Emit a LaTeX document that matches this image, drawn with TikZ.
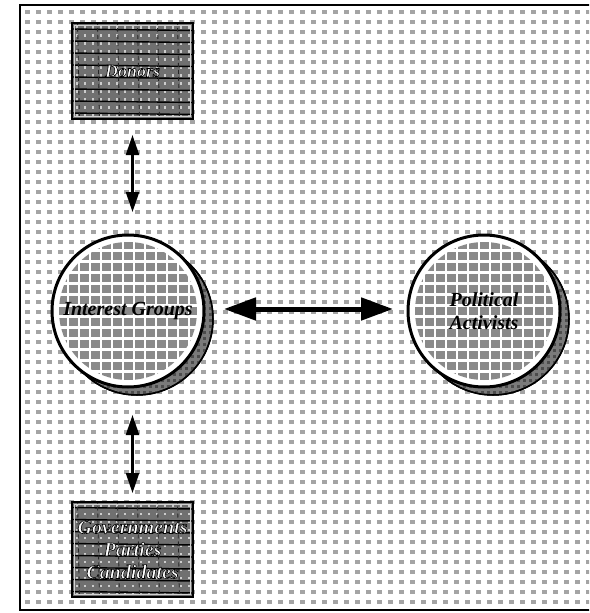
\documentclass[tikz,border=0pt]{standalone}
\usepackage{fontspec}
\setmainfont{Liberation Serif}
\usetikzlibrary{arrows.meta}

\definecolor{bgdot}{HTML}{A4A4A4}
\definecolor{cellgray}{HTML}{8A8A8A}
\definecolor{boxgray}{HTML}{707070}
\definecolor{shadegray}{HTML}{7A7A7A}

% white letters stroked with a thin black outline (fill-and-stroke text mode)
\newcommand{\outlined}[1]{\special{pdf:literal direct 2 Tr 0.6 w 0 G}#1\special{pdf:literal direct 0 Tr}}

\tikzset{
  every node/.style={inner sep=0pt, outer sep=0pt},
  labelfont/.style={font=\fontsize{20}{22.5}\selectfont\bfseries\itshape},
  bubble/.style={circle, minimum size=152pt, draw=black, line width=3pt,
    labelfont, align=center},
  shadowdisc/.style={circle, minimum size=152pt, draw=black, line width=1.5pt,
    fill=shadegray},
  darkbox/.style={rectangle, minimum width=121pt, draw=black, line width=2pt,
    text=white, labelfont, align=center},
  bigarrow/.style={line width=5pt,
    {Triangle[length=32pt,width=22pt]}-{Triangle[length=32pt,width=22pt]}},
  smallarrow/.style={line width=2.3pt,
    {Triangle[length=20pt,width=13pt]}-{Triangle[length=20pt,width=13pt]}}
}

% textures
\newcommand{\disctexture}[1]{%
  \fill[white] (#1) circle (76);
  \begin{scope}[shift={(#1)}]
    \clip (0,0) circle (69);
    \foreach \i in {-7,...,7}
      \foreach \j in {-7,...,7}
        \fill[cellgray] (\i*11-4.5,\j*11-4) rectangle +(9,8);
  \end{scope}}
\newcommand{\shadetexture}[1]{%
  \begin{scope}[shift={(#1)}]
    \clip (0,0) circle (76);
    \foreach \i in {-13,...,13}
      \foreach \j in {-13,...,13}
        \fill[black!70] (\i*6,\j*6) rectangle +(2.5,2.5);
  \end{scope}}
\newcommand{\boxtexture}[2]{%
  \begin{scope}[shift={(#1)}]
    \fill[boxgray] (-60.5,-#2) rectangle (60.5,#2);
    \clip (-60.5,-#2) rectangle (60.5,#2);
    \foreach \i in {-60,-52,...,60}
      \foreach \j in {-48,-40,...,48}
        \fill[gray!40] (\i+3,\j+3) rectangle +(2.5,2.5);
    \foreach \j in {-42,-30,...,42}
      \draw[black, line width=1.4pt] (-62,\j) -- (62,\j+1.5);
    \foreach \i in {-55,-35,...,60}
      \draw[black!85, line width=0.9pt, dash pattern=on 4pt off 3pt] (\i,-50) -- (\i+2,50);
    \draw[gray!35, line width=1pt] (-58,-#2+2.5) rectangle (58,#2-2.5);
  \end{scope}}

\begin{document}
\begin{tikzpicture}[x=1pt, y=-1pt]
  \useasboundingbox (0,0) rectangle (589,613);
  \clip (0,0) rectangle (589,613);

  % speckled background inside the frame
  \begin{scope}
    \clip (20,5) rectangle (600,610);
    \fill[white] (20,5) rectangle (600,610);
    \foreach \i in {0,...,52}
      \foreach \j in {0,...,60}
        \fill[bgdot] ({25+\i*11},{10+\j*10}) rectangle +(5,3.5);
  \end{scope}
  % frame: left, top and bottom edges (the right one runs off the page)
  \draw[line width=2.5pt] (600,5) -- (20,5) -- (20,610) -- (600,610);

  % disc and box centres
  \coordinate (cig) at (128,311);
  \coordinate (cpa) at (484,311);
  \coordinate (cdo) at (132.5,71);
  \coordinate (cgo) at (132.5,549.5);

  % shadows
  \node[shadowdisc] (igshade) at ([shift={(9,8)}]cig) {};
  \shadetexture{igshade.center}
  \draw[black, line width=1.5pt] (igshade) circle (76);
  \node[shadowdisc] (pashade) at ([shift={(9,8)}]cpa) {};
  \shadetexture{pashade.center}
  \draw[black, line width=1.5pt] (pashade) circle (76);

  % discs
  \disctexture{cig}
  \node[bubble] (ig) at (cig) {Interest Groups};
  \disctexture{cpa}
  \node[bubble] (pa) at (cpa) {Political\\Activists};

  % boxes
  \boxtexture{cdo}{48}
  \node[darkbox, minimum height=96pt] (donors) at (cdo)
    {\fontsize{18}{20}\selectfont\outlined{Donors}};
  \boxtexture{cgo}{47.5}
  \node[darkbox, minimum height=95pt] (gov) at (cgo)
    {\outlined{Governments}\\\outlined{Parties}\\\outlined{Candidates}};

  % connectors
  \draw[smallarrow, shorten <=16pt, shorten >=23pt] (donors.south) -- (ig.north -| donors.south);
  \draw[smallarrow, shorten <=28pt, shorten >=9pt] (ig.south -| gov.north) -- (gov.north);
  \draw[bigarrow, shorten <=20pt, shorten >=15pt] ([yshift=2pt]ig.east) -- ([yshift=2pt]pa.west);
\end{tikzpicture}
\end{document}
